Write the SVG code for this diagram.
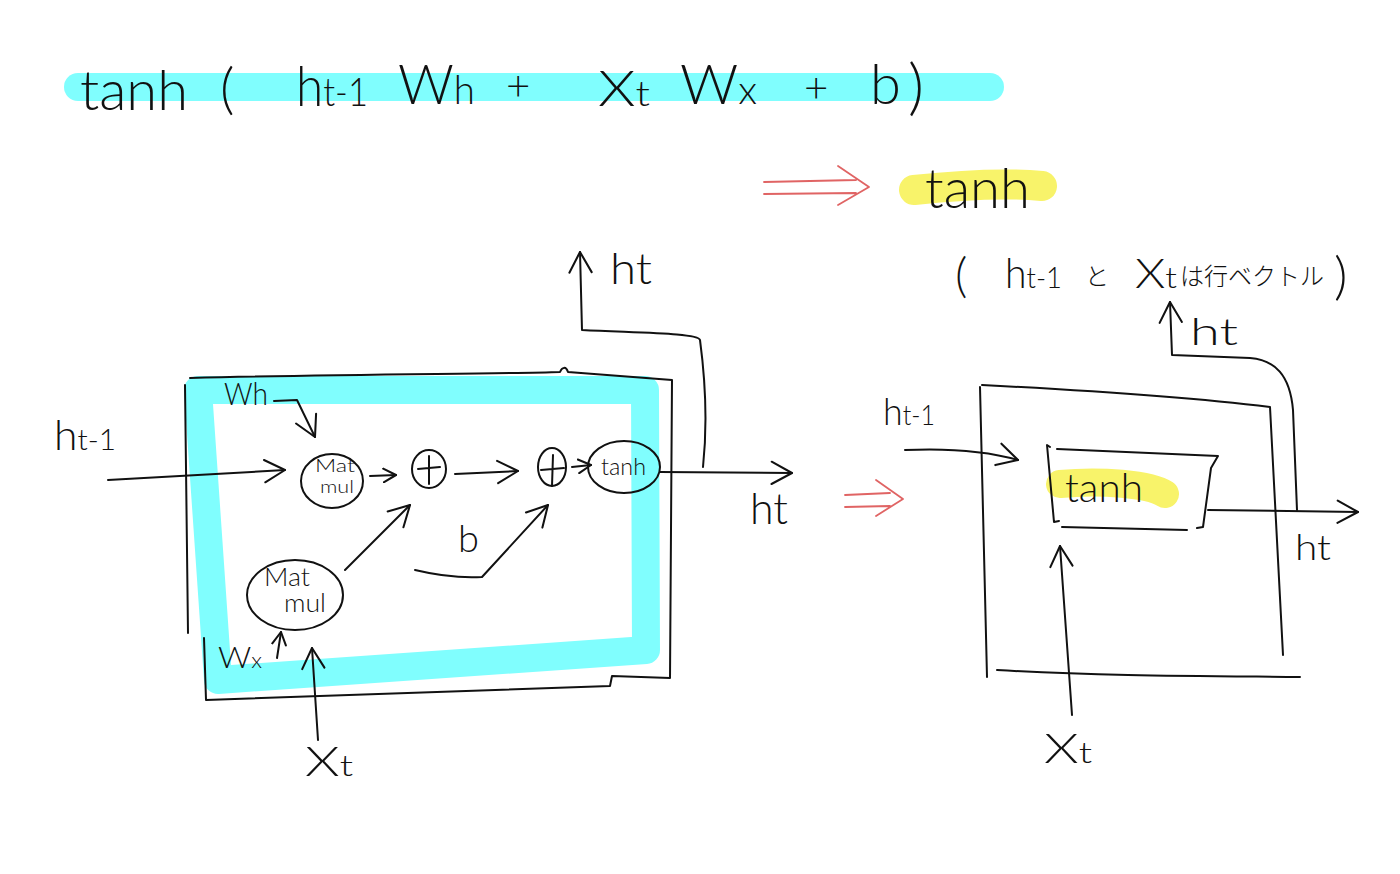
<svg xmlns="http://www.w3.org/2000/svg" width="1400" height="874" viewBox="0 0 1400 874">
<defs>
<marker id="arr" viewBox="0 0 14 14" refX="12" refY="7" markerWidth="16" markerHeight="16" markerUnits="userSpaceOnUse" orient="auto">
<path d="M1,1 L12,7 L1,13" fill="none" stroke="#111" stroke-width="1.8" stroke-linecap="round" stroke-linejoin="round"/>
</marker>
<marker id="arrL" viewBox="0 0 14 14" refX="12" refY="7" markerWidth="26" markerHeight="26" markerUnits="userSpaceOnUse" orient="auto">
<path d="M1,1 L12,7 L1,13" fill="none" stroke="#111" stroke-width="1.1" stroke-linecap="round" stroke-linejoin="round"/>
</marker>
</defs>
<style>
.ink{fill:none;stroke:#111;stroke-width:2;stroke-linecap:round;stroke-linejoin:round}
.red{fill:none;stroke:#e06464;stroke-width:1.8;stroke-linecap:round;stroke-linejoin:round}
.cyan{fill:none;stroke:#80fefe;stroke-linecap:round;stroke-linejoin:round}
.yel{fill:none;stroke:#f8f36a;stroke-linecap:round;stroke-linejoin:round}
text{font-family:Lato,"Noto Sans","Noto Sans CJK JP",sans-serif;font-weight:300;fill:#111}
.sub{font-size:0.7em}
</style>
<rect width="1400" height="874" fill="#fff"/>

<g id="formula">
<path class="cyan" d="M78 87 L990 87" stroke-width="28"/>
<text x="80" y="110" font-size="56" textLength="108" lengthAdjust="spacingAndGlyphs">tanh</text>
<text x="220" y="108" font-size="56">(</text>
<text x="296" y="106" font-size="56" textLength="72" lengthAdjust="spacingAndGlyphs">h<tspan class="sub">t-1</tspan></text>
<text x="398" y="104" font-size="56" textLength="77" lengthAdjust="spacingAndGlyphs">W<tspan class="sub">h</tspan></text>
<text x="506" y="100" font-size="42">+</text>
<text x="598" y="106" font-size="50" textLength="52" lengthAdjust="spacingAndGlyphs">X<tspan class="sub">t</tspan></text>
<text x="680" y="104" font-size="56" textLength="77" lengthAdjust="spacingAndGlyphs">W<tspan class="sub">x</tspan></text>
<text x="804" y="102" font-size="42">+</text>
<text x="870" y="104" font-size="56">b</text>
<text x="908" y="108" font-size="62">)</text>
</g>

<g id="result">
<path class="red" d="M764 182 L856 180 M764 194 L856 193 M838 166 L869 187 L838 205"/>
<path class="yel" d="M914 190 C 960 185, 1010 183, 1042 186" stroke-width="30"/>
<text x="925" y="208" font-size="56" textLength="105" lengthAdjust="spacingAndGlyphs">tanh</text>
</g>

<g id="note">
<text x="955" y="292" font-size="48">(</text>
<text x="1005" y="288" font-size="42" textLength="57" lengthAdjust="spacingAndGlyphs">h<tspan class="sub">t-1</tspan></text>
<text x="1085" y="285" font-size="24">と</text>
<text x="1135" y="288" font-size="42" textLength="42" lengthAdjust="spacingAndGlyphs">X<tspan class="sub">t</tspan></text>
<text x="1180" y="285" font-size="24" textLength="144" lengthAdjust="spacingAndGlyphs">は行ベクトル</text>
<text x="1334" y="294" font-size="52">)</text>
</g>

<g id="rnn-cell">
<path class="cyan" d="M198 390 L645 390 L646 650 L218 680 Z" stroke-width="28"/>
<path class="ink" d="M190 378 C 350 374, 500 374, 560 372 C 562 367, 566 366, 568 372 L672 380 L670 678 L612 676 L610 686 L206 700 L204 638 M185 385 L188 633"/>
</g>

<g id="matmul-h">
<ellipse class="ink" cx="332" cy="481" rx="31" ry="27"/>
<text x="315" y="472" font-size="17" textLength="40" lengthAdjust="spacingAndGlyphs">Mat</text>
<text x="320" y="493" font-size="17" textLength="34" lengthAdjust="spacingAndGlyphs">mul</text>
</g>
<g id="add-1">
<ellipse class="ink" cx="429" cy="469" rx="17" ry="19"/>
<path class="ink" d="M418 469 L440 467 M429 456 L429 484"/>
</g>
<g id="add-2">
<ellipse class="ink" cx="552" cy="467" rx="14" ry="19"/>
<path class="ink" d="M541 470 L564 468 M553 455 L552 486"/>
</g>
<g id="tanh-node">
<ellipse class="ink" cx="624" cy="467" rx="36" ry="26"/>
<text x="601" y="475" font-size="24" textLength="45" lengthAdjust="spacingAndGlyphs">tanh</text>
</g>
<g id="matmul-x">
<ellipse class="ink" cx="295" cy="595" rx="48" ry="35"/>
<text x="264" y="586" font-size="25" textLength="46" lengthAdjust="spacingAndGlyphs">Mat</text>
<text x="284" y="612" font-size="25" textLength="42" lengthAdjust="spacingAndGlyphs">mul</text>
</g>

<g id="labels-left">
<text x="224" y="405" font-size="32" textLength="44" lengthAdjust="spacingAndGlyphs">Wh</text>
<text x="54" y="450" font-size="42" textLength="62" lengthAdjust="spacingAndGlyphs">h<tspan class="sub">t-1</tspan></text>
<text x="610" y="284" font-size="44" textLength="42" lengthAdjust="spacingAndGlyphs">ht</text>
<text x="750" y="524" font-size="44" textLength="38" lengthAdjust="spacingAndGlyphs">ht</text>
<text x="305" y="776" font-size="42" textLength="48" lengthAdjust="spacingAndGlyphs">X<tspan class="sub">t</tspan></text>
<text x="218" y="668" font-size="30" textLength="44" lengthAdjust="spacingAndGlyphs">W<tspan class="sub">x</tspan></text>
<text x="458" y="552" font-size="38">b</text>
</g>

<g id="arrow-mid">
<path class="red" d="M845 495 L890 493 M845 507 L890 506 M876 480 L903 499 L876 516"/>
</g>

<g id="rnn-simple">
<path class="ink" d="M982 385 C 1080 390, 1180 396, 1270 407 L1283 655 M980 387 L987 677 M997 670 C 1100 676, 1200 676, 1300 677"/>
</g>
<g id="tanh-box">
<path class="yel" d="M1060 484 C 1100 480, 1150 484, 1165 494" stroke-width="28"/>
<path class="ink" d="M1050 447 L1047 445 L1054 522 L1059 521 M1057 449 L1218 456 L1211 468 L1203 527 L1197 528 M1062 527 L1187 530"/>
<text x="1065" y="502" font-size="40" textLength="78" lengthAdjust="spacingAndGlyphs">tanh</text>
</g>
<g id="labels-right">
<text x="883" y="425" font-size="38" textLength="52" lengthAdjust="spacingAndGlyphs">h<tspan class="sub">t-1</tspan></text>
<text x="1190" y="345" font-size="38" textLength="48" lengthAdjust="spacingAndGlyphs">ht</text>
<text x="1295" y="560" font-size="36" textLength="36" lengthAdjust="spacingAndGlyphs">ht</text>
<text x="1044" y="763" font-size="42" textLength="48" lengthAdjust="spacingAndGlyphs">X<tspan class="sub">t</tspan></text>
</g>

<g id="connectors">
<path class="ink" d="M108 480 L285 470" marker-end="url(#arrL)"/>
<path class="ink" d="M274 401 L297 400 L315 437" marker-end="url(#arrL)"/>
<path class="ink" d="M370 476 L396 475" marker-end="url(#arr)"/>
<path class="ink" d="M455 474 L518 471" marker-end="url(#arrL)"/>
<path class="ink" d="M572 467 L591 465" marker-end="url(#arr)"/>
<path class="ink" d="M660 472 L792 473" marker-end="url(#arrL)"/>
<path class="ink" d="M703 467 C 708 420, 704 370, 700 340 C 698 333, 640 333, 582 330 L580 252" marker-end="url(#arrL)"/>
<path class="ink" d="M345 570 L410 505" marker-end="url(#arrL)"/>
<path class="ink" d="M415 570 C 440 576, 465 578, 482 577 L548 505" marker-end="url(#arrL)"/>
<path class="ink" d="M277 658 L281 632" marker-end="url(#arr)"/>
<path class="ink" d="M318 740 L312 648" marker-end="url(#arrL)"/>
<path class="ink" d="M905 450 C 950 448, 990 452, 1018 460" marker-end="url(#arrL)"/>
<path class="ink" d="M1072 715 L1060 546" marker-end="url(#arrL)"/>
<path class="ink" d="M1208 510 L1358 512" marker-end="url(#arrL)"/>
<path class="ink" d="M1297 510 L1293 410 C 1290 375, 1275 360, 1250 358 L1172 355 L1170 302" marker-end="url(#arrL)"/>
</g>
</svg>
